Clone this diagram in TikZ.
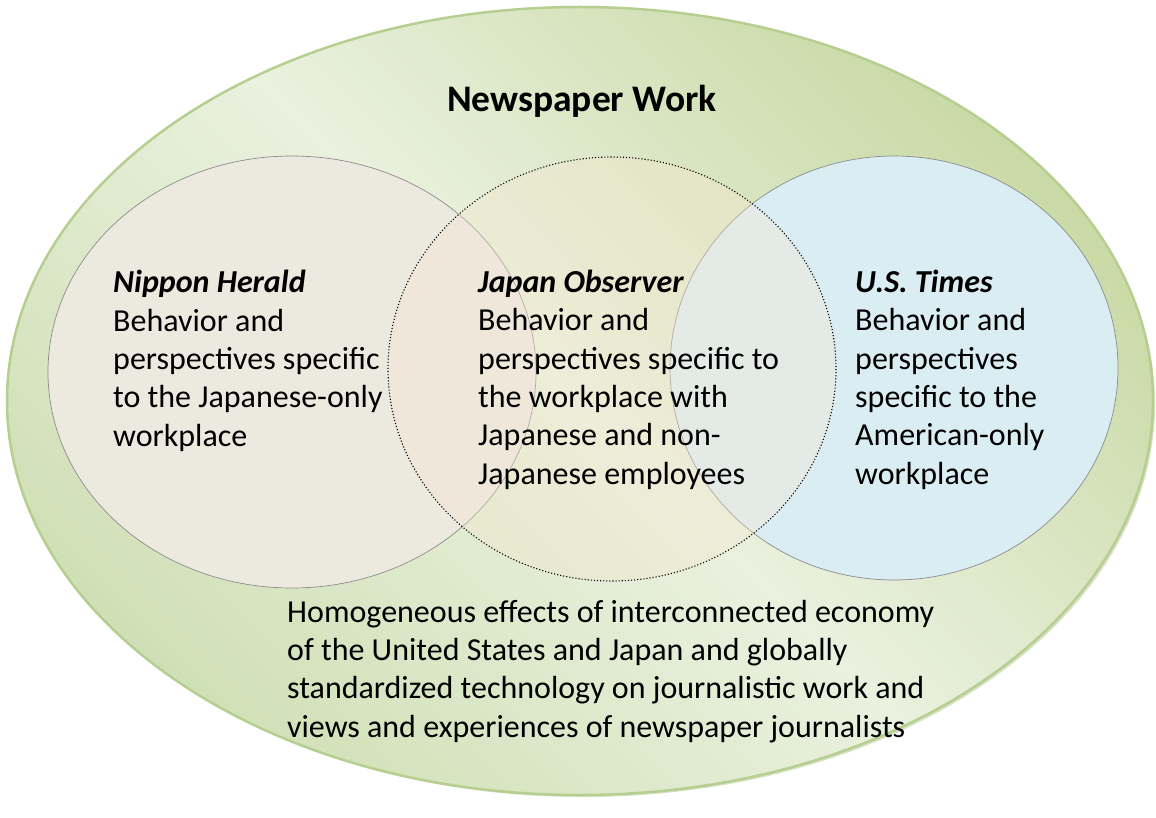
\documentclass[tikz,border=0pt]{standalone}
\usepackage{fontspec}
\setmainfont{Carlito}
\definecolor{gdark}{HTML}{C9DAA6}
\definecolor{gdarkb}{HTML}{D0E0B6}
\definecolor{glight}{HTML}{EAF1DF}
\definecolor{gedge}{HTML}{B6CF91}
\definecolor{gshadow}{HTML}{A3BD7C}
\definecolor{beige}{HTML}{ECE9DF}
\definecolor{skyb}{HTML}{DAEDF3}
\definecolor{peach}{HTML}{F7E6CF}
\begin{document}
\begin{tikzpicture}[x=1pt,y=-1pt,
  body/.style={inner sep=0pt, align=left, anchor=base west, font=\fontsize{32}{38.3}\selectfont},
  ring/.style={draw=gray!90, line width=0.7pt}]
\useasboundingbox (0,0) rectangle (1156,818);
% shadow
\fill[gshadow, opacity=0.45] (583,404) ellipse [x radius=572, y radius=393];
% outer ellipse
\shade[top color=gdark, bottom color=gdarkb, middle color=glight, shading angle=-45]
  (580,401) ellipse [x radius=573, y radius=394];
\draw[gedge, line width=2.5pt] (580,401) ellipse [x radius=573, y radius=394];
% circles
\filldraw[fill=beige, ring] (292,372) ellipse [x radius=244, y radius=216];
\filldraw[fill=skyb, ring] (894,368) ellipse [x radius=224, y radius=212];
\fill[peach, opacity=0.35] (612,369) ellipse [x radius=224, y radius=212];
\draw[black, line width=1.1pt, dotted] (612,369) ellipse [x radius=224, y radius=212];
% texts
\node[inner sep=0pt, anchor=base, font=\fontsize{37.5}{40}\selectfont\bfseries] (title) at (582,112) {Newspaper Work};
\node[body] (nh) at (113,446) {{\bfseries\itshape Nippon Herald}\\Behavior and\\perspectives specific\\to the Japanese-only\\workplace};
\node[body] (jo) at (478,484) {{\bfseries\itshape Japan Observer}\\Behavior and\\perspectives specific to\\the workplace with\\Japanese and non-\\Japanese employees};
\node[body] (us) at (855,484) {{\bfseries\itshape U.S. Times}\\Behavior and\\perspectives\\specific to the\\American-only\\workplace};
\node[body] (hom) at (287,737) {Homogeneous effects of interconnected economy\\of the United States and Japan and globally\\standardized technology on journalistic work and\\views and experiences of newspaper journalists};
\end{tikzpicture}
\end{document}
